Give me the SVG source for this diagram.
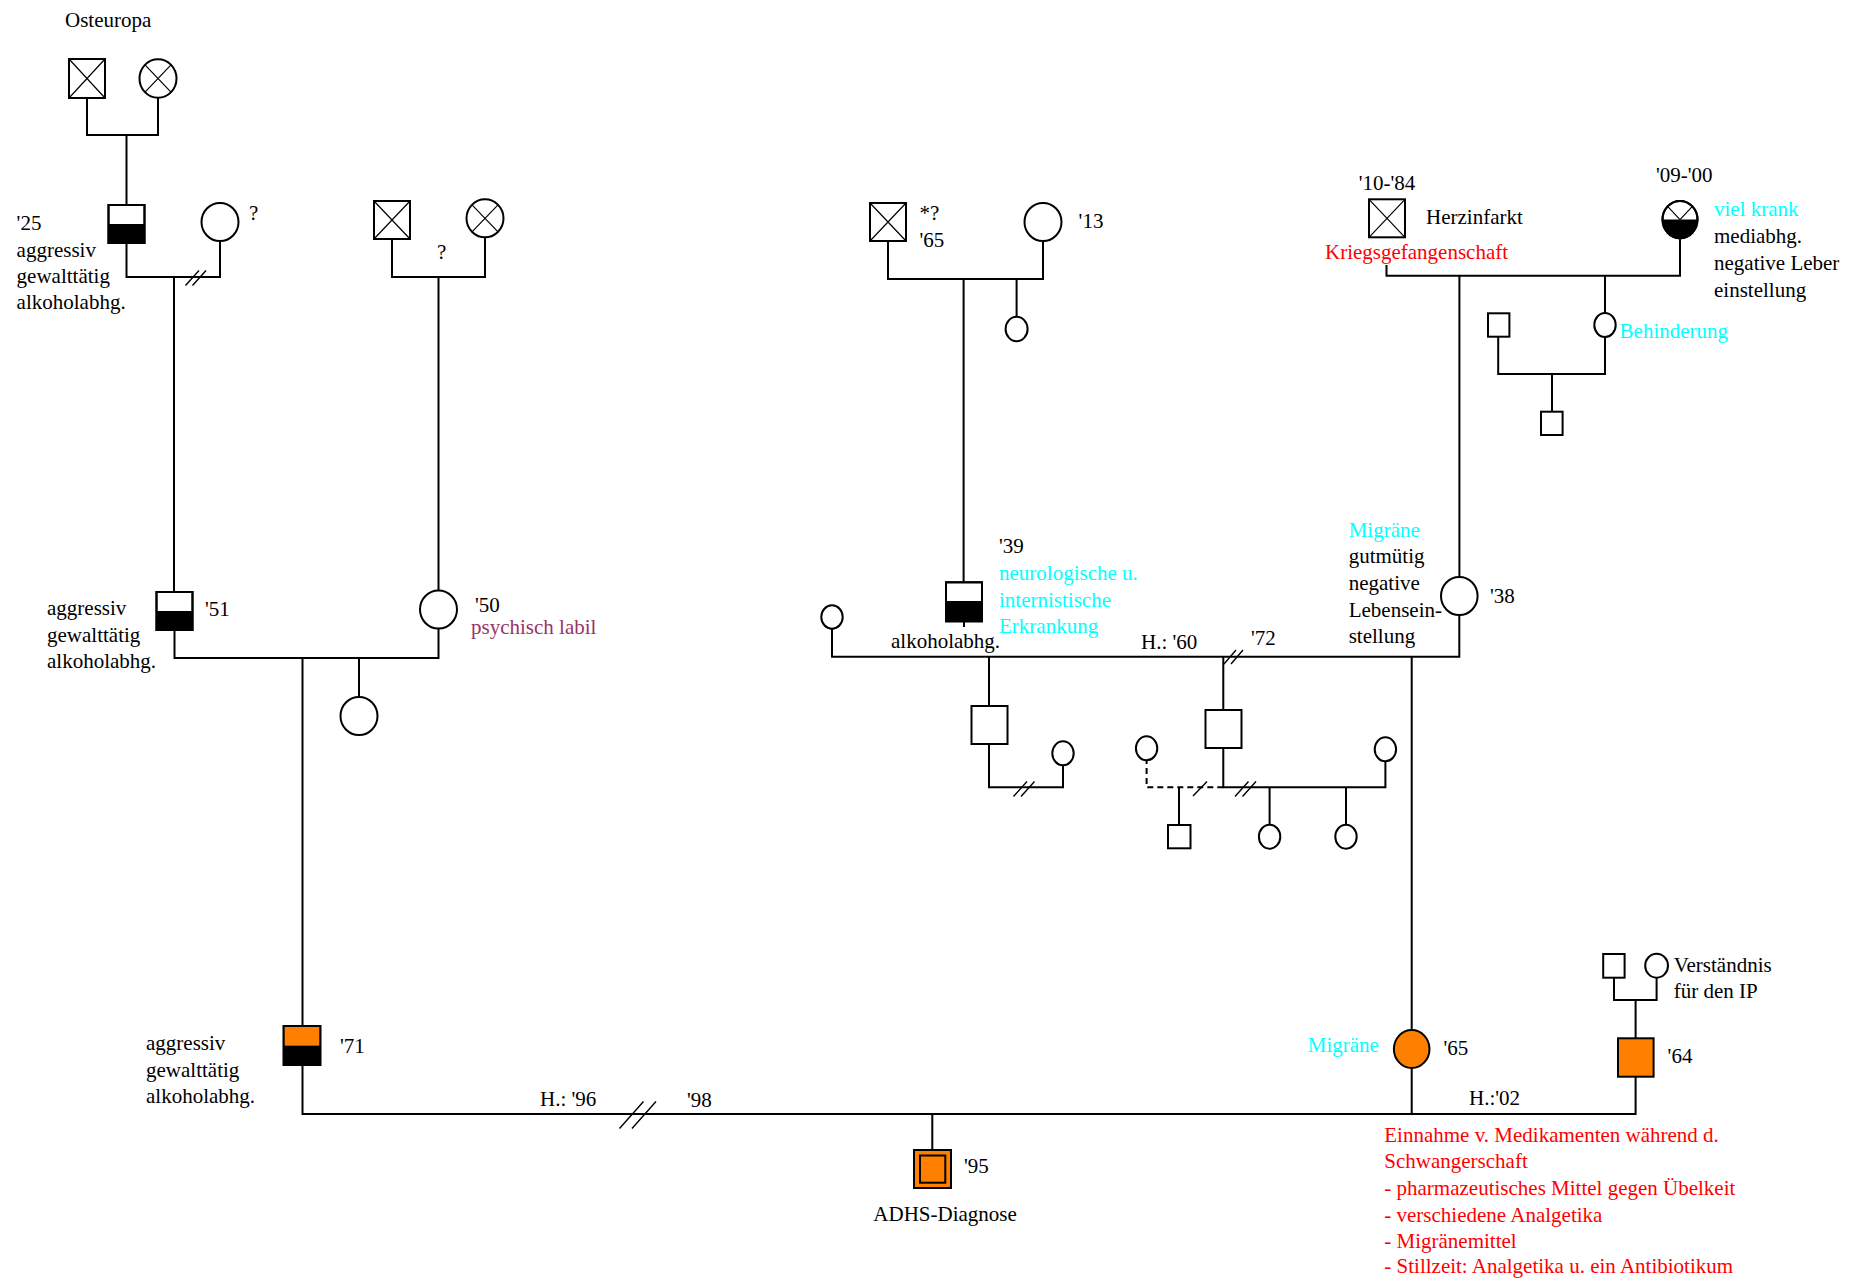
<svg xmlns="http://www.w3.org/2000/svg" width="1858" height="1281" viewBox="0 0 1858 1281">
<style>
.ln{stroke:#000;stroke-width:2;fill:none}
.dash{stroke:#000;stroke-width:2;fill:none;stroke-dasharray:6 4}
.sl{stroke:#000;stroke-width:1.4;fill:none}
.sh{fill:#fff;stroke:#000;stroke-width:2}
.x{stroke:#000;stroke-width:1.2;fill:none}
.blk{fill:#000}
.org{fill:#FF8000;stroke:#000;stroke-width:2}
.t{font-family:"Liberation Serif","Times New Roman",serif;font-size:21px;fill:#000}
.cy{fill:#00FFFF}
.rd{fill:#FF0000}
.pu{fill:#993366}
</style>
<rect width="1858" height="1281" fill="#fff"/>
<g id="connectors">
<path class="ln" d="M87,98 V135 H158 V98 M126.5,135 V205"/>
<path class="ln" d="M126.5,243 V277 H220 V241 M174,277 V592"/>
<path class="sl" d="M185.5,285.5 L199,270.5 M192.5,285.5 L206,270.5"/>
<path class="ln" d="M392,239 V277 H485 V237 M438.5,277 V590"/>
<path class="ln" d="M174.5,630 V658 H438.5 V628.5 M302.5,658 V1026 M359,658 V697"/>
<path class="ln" d="M888,241 V279 H1043 V241 M963.6,279 V582 M1016.6,279 V317"/>
<path class="ln" d="M964,621 V627"/>
<path class="ln" d="M832,628.5 V656.7 H1459.3 V615"/>
<path class="sl" d="M1224,664 L1236,650 M1231,664 L1243,650"/>
<path class="ln" d="M989,656.7 V706 M989,744 V787.3 H1063 V765"/>
<path class="sl" d="M1013.5,796.5 L1027,781.5 M1021,796.5 L1034.5,781.5"/>
<path class="ln" d="M1223.3,656.7 V710 M1223.3,748 V787.3 H1385.4 V761"/>
<path class="sl" d="M1235,796.5 L1248.5,781.5 M1242.5,796.5 L1256,781.5"/>
<path class="dash" d="M1223.3,787.3 H1146.6 V760.3"/>
<path class="sl" d="M1193,796 L1207,781.5"/>
<path class="ln" d="M1179,787.3 V825 M1269.6,787.3 V825 M1346,787.3 V825"/>
<path class="ln" d="M1411.7,656.7 V1030 M1411.7,1068 V1114"/>
<path class="ln" d="M1386.5,265 V275.7 H1680 V238.3 M1459.4,275.7 V577 M1605,275.7 V313"/>
<path class="ln" d="M1605,337 V374 H1498.2 V336.7 M1552,374 V411.7"/>
<path class="ln" d="M302.5,1065 V1114 H1635.6 V1076.7 M932.3,1114 V1150"/>
<path class="sl" d="M619.5,1128.5 L643.5,1101.5 M632,1128.5 L656,1101.5"/>
<path class="ln" d="M1635.6,1038.3 V1000 M1614,977.7 V1000 H1656.6 V977.7"/>
</g>
<g id="n-osteuropa-m"><rect class="sh" x="69" y="59" width="36" height="39"/><path class="x" d="M69,59 L105,98 M105,59 L69,98"/></g>
<g id="n-osteuropa-f"><ellipse class="sh" cx="158" cy="78.5" rx="18.5" ry="19.3"/><path class="x" d="M145,64.8 L171,92.2 M171,64.8 L145,92.2"/></g>
<g id="n-m25"><rect class="sh" x="108.5" y="205" width="36" height="38"/><rect class="blk" x="108.5" y="224" width="36" height="19"/><rect class="ln" x="108.5" y="205" width="36" height="38"/></g>
<g id="n-f-q"><ellipse class="sh" cx="220" cy="222" rx="18.5" ry="19"/></g>
<g id="n-gp2-m"><rect class="sh" x="374" y="201" width="36" height="38"/><path class="x" d="M374,201 L410,239 M410,201 L374,239"/></g>
<g id="n-gp2-f"><ellipse class="sh" cx="485" cy="218.3" rx="18.5" ry="19"/><path class="x" d="M472,204.8 L498,231.8 M498,204.8 L472,231.8"/></g>
<g id="n-m51"><rect class="sh" x="156.5" y="592" width="36" height="38"/><rect class="blk" x="156.5" y="611" width="36" height="19"/><rect class="ln" x="156.5" y="592" width="36" height="38"/></g>
<g id="n-f50"><ellipse class="sh" cx="438.5" cy="609.5" rx="18.5" ry="19"/></g>
<g id="n-sis51"><ellipse class="sh" cx="359" cy="716" rx="18.5" ry="19"/></g>
<g id="n-m71"><rect class="sh" x="283.7" y="1026" width="36.6" height="39"/><rect fill="#FF8000" x="283.7" y="1026" width="36.6" height="19.5"/><rect class="blk" x="283.7" y="1045.5" width="36.6" height="19.5"/><rect class="ln" x="283.7" y="1026" width="36.6" height="39"/></g>
<g id="n-ip"><rect class="org" x="914" y="1150" width="37" height="38"/><rect class="org" x="920" y="1155.5" width="25.3" height="27.2"/></g>
<g id="n-gp3-m"><rect class="sh" x="870" y="203" width="36" height="38"/><path class="x" d="M870,203 L906,241 M906,203 L870,241"/></g>
<g id="n-f13"><ellipse class="sh" cx="1043" cy="222" rx="18.5" ry="19"/></g>
<g id="n-sis39"><ellipse class="sh" cx="1016.6" cy="329" rx="11" ry="12.3"/></g>
<g id="n-m39"><rect class="sh" x="946" y="582.3" width="36" height="39"/><rect class="blk" x="946" y="601" width="36" height="20.3"/><rect class="ln" x="946" y="582.3" width="36" height="39"/></g>
<g id="n-f-left"><ellipse class="sh" cx="832" cy="617" rx="10.7" ry="11.7"/></g>
<g id="n-son1"><rect class="sh" x="971.5" y="706" width="36" height="38"/></g>
<g id="n-son1-w"><ellipse class="sh" cx="1063" cy="753.3" rx="10.7" ry="12"/></g>
<g id="n-son2"><rect class="sh" x="1205.5" y="710" width="36" height="38"/></g>
<g id="n-son2-p1"><ellipse class="sh" cx="1146.6" cy="748.3" rx="10.7" ry="12"/></g>
<g id="n-son2-w"><ellipse class="sh" cx="1385.4" cy="749.3" rx="10.7" ry="12"/></g>
<g id="n-son2-c1"><rect class="sh" x="1168" y="825" width="22.5" height="23.3"/></g>
<g id="n-son2-c2"><ellipse class="sh" cx="1269.6" cy="836.7" rx="10.7" ry="12"/></g>
<g id="n-son2-c3"><ellipse class="sh" cx="1346" cy="836.7" rx="10.7" ry="12"/></g>
<g id="n-m1084"><rect class="sh" x="1369" y="199.3" width="36" height="38"/><path class="x" d="M1369,199.3 L1405,237.3 M1405,199.3 L1369,237.3"/></g>
<g id="n-f0900"><ellipse class="sh" cx="1680" cy="219.6" rx="17.5" ry="18.7"/><path class="blk" d="M1662.5,219.6 A17.5,18.7 0 0 0 1697.5,219.6 Z"/><path class="x" d="M1680,219.6 L1667.6,206.4 M1680,219.6 L1692.4,206.4"/><ellipse class="ln" cx="1680" cy="219.6" rx="17.5" ry="18.7"/></g>
<g id="n-f38"><ellipse class="sh" cx="1459.3" cy="596" rx="18.3" ry="19"/></g>
<g id="n-behind"><ellipse class="sh" cx="1605" cy="325" rx="10.7" ry="12"/></g>
<g id="n-behind-m"><rect class="sh" x="1488" y="313.3" width="21.4" height="23.4"/></g>
<g id="n-behind-c"><rect class="sh" x="1541" y="411.7" width="21.6" height="23.3"/></g>
<g id="n-f65"><ellipse class="org" cx="1411.7" cy="1049" rx="17.8" ry="19"/></g>
<g id="n-m64"><rect class="org" x="1618" y="1038.3" width="35.6" height="38.4"/></g>
<g id="n-m64-f"><rect class="sh" x="1603.2" y="954" width="21.4" height="23.7"/></g>
<g id="n-m64-m"><ellipse class="sh" cx="1656.6" cy="965.7" rx="11.4" ry="12"/></g>
<g id="labels" class="t">
<text x="65" y="27">Osteuropa</text>
<text x="16.6" y="230">'25</text>
<text x="16.6" y="257">aggressiv</text>
<text x="16.6" y="283.3">gewalttätig</text>
<text x="16.6" y="309.3">alkoholabhg.</text>
<text x="249" y="220">?</text>
<text x="437" y="259">?</text>
<text x="47" y="615">aggressiv</text>
<text x="47" y="641.7">gewalttätig</text>
<text x="47" y="668">alkoholabhg.</text>
<text x="205" y="616">'51</text>
<text x="475" y="611.7">'50</text>
<text class="pu" x="471" y="634">psychisch labil</text>
<text x="919.5" y="220">*?</text>
<text x="919.5" y="247">'65</text>
<text x="1078.6" y="228">'13</text>
<text x="999" y="553">'39</text>
<text class="cy" x="999" y="580">neurologische u.</text>
<text class="cy" x="999" y="606.7">internistische</text>
<text class="cy" x="999" y="633.3">Erkrankung</text>
<text x="891" y="648.3">alkoholabhg.</text>
<text x="1141" y="649">H.: '60</text>
<text x="1251" y="645">'72</text>
<text class="cy" x="1348.7" y="536.7">Migräne</text>
<text x="1348.7" y="563.3">gutmütig</text>
<text x="1348.7" y="590">negative</text>
<text x="1348.7" y="616.7">Lebensein-</text>
<text x="1348.7" y="643.3">stellung</text>
<text x="1490" y="603">'38</text>
<text x="1358.7" y="190">'10-'84</text>
<text x="1426" y="224">Herzinfarkt</text>
<text class="rd" x="1325" y="259">Kriegsgefangenschaft</text>
<text x="1656" y="181.7">'09-'00</text>
<text class="cy" x="1714" y="215.5">viel krank</text>
<text x="1714" y="243">mediabhg.</text>
<text x="1714" y="270">negative Leber</text>
<text x="1714" y="296.7">einstellung</text>
<text class="cy" x="1619.6" y="338.3">Behinderung</text>
<text x="340" y="1053">'71</text>
<text x="146" y="1050">aggressiv</text>
<text x="146" y="1076.7">gewalttätig</text>
<text x="146" y="1103.3">alkoholabhg.</text>
<text x="540" y="1106">H.: '96</text>
<text x="687" y="1106.7">'98</text>
<text x="964" y="1173.3">'95</text>
<text x="873.3" y="1221">ADHS-Diagnose</text>
<text class="cy" x="1307.8" y="1051.7">Migräne</text>
<text x="1443.4" y="1055">'65</text>
<text x="1469" y="1105">H.:'02</text>
<text x="1667.6" y="1063.3">'64</text>
<text x="1673.7" y="971.7">Verständnis</text>
<text x="1673.7" y="998.3">für den IP</text>
<text class="rd" x="1384.3" y="1141.7">Einnahme v. Medikamenten während d.</text>
<text class="rd" x="1384.3" y="1168.3">Schwangerschaft</text>
<text class="rd" x="1384.3" y="1195">- pharmazeutisches Mittel gegen Übelkeit</text>
<text class="rd" x="1384.3" y="1221.7">- verschiedene Analgetika</text>
<text class="rd" x="1384.3" y="1248.3">- Migränemittel</text>
<text class="rd" x="1384.3" y="1273.3">- Stillzeit: Analgetika u. ein Antibiotikum</text>
</g>
</svg>
